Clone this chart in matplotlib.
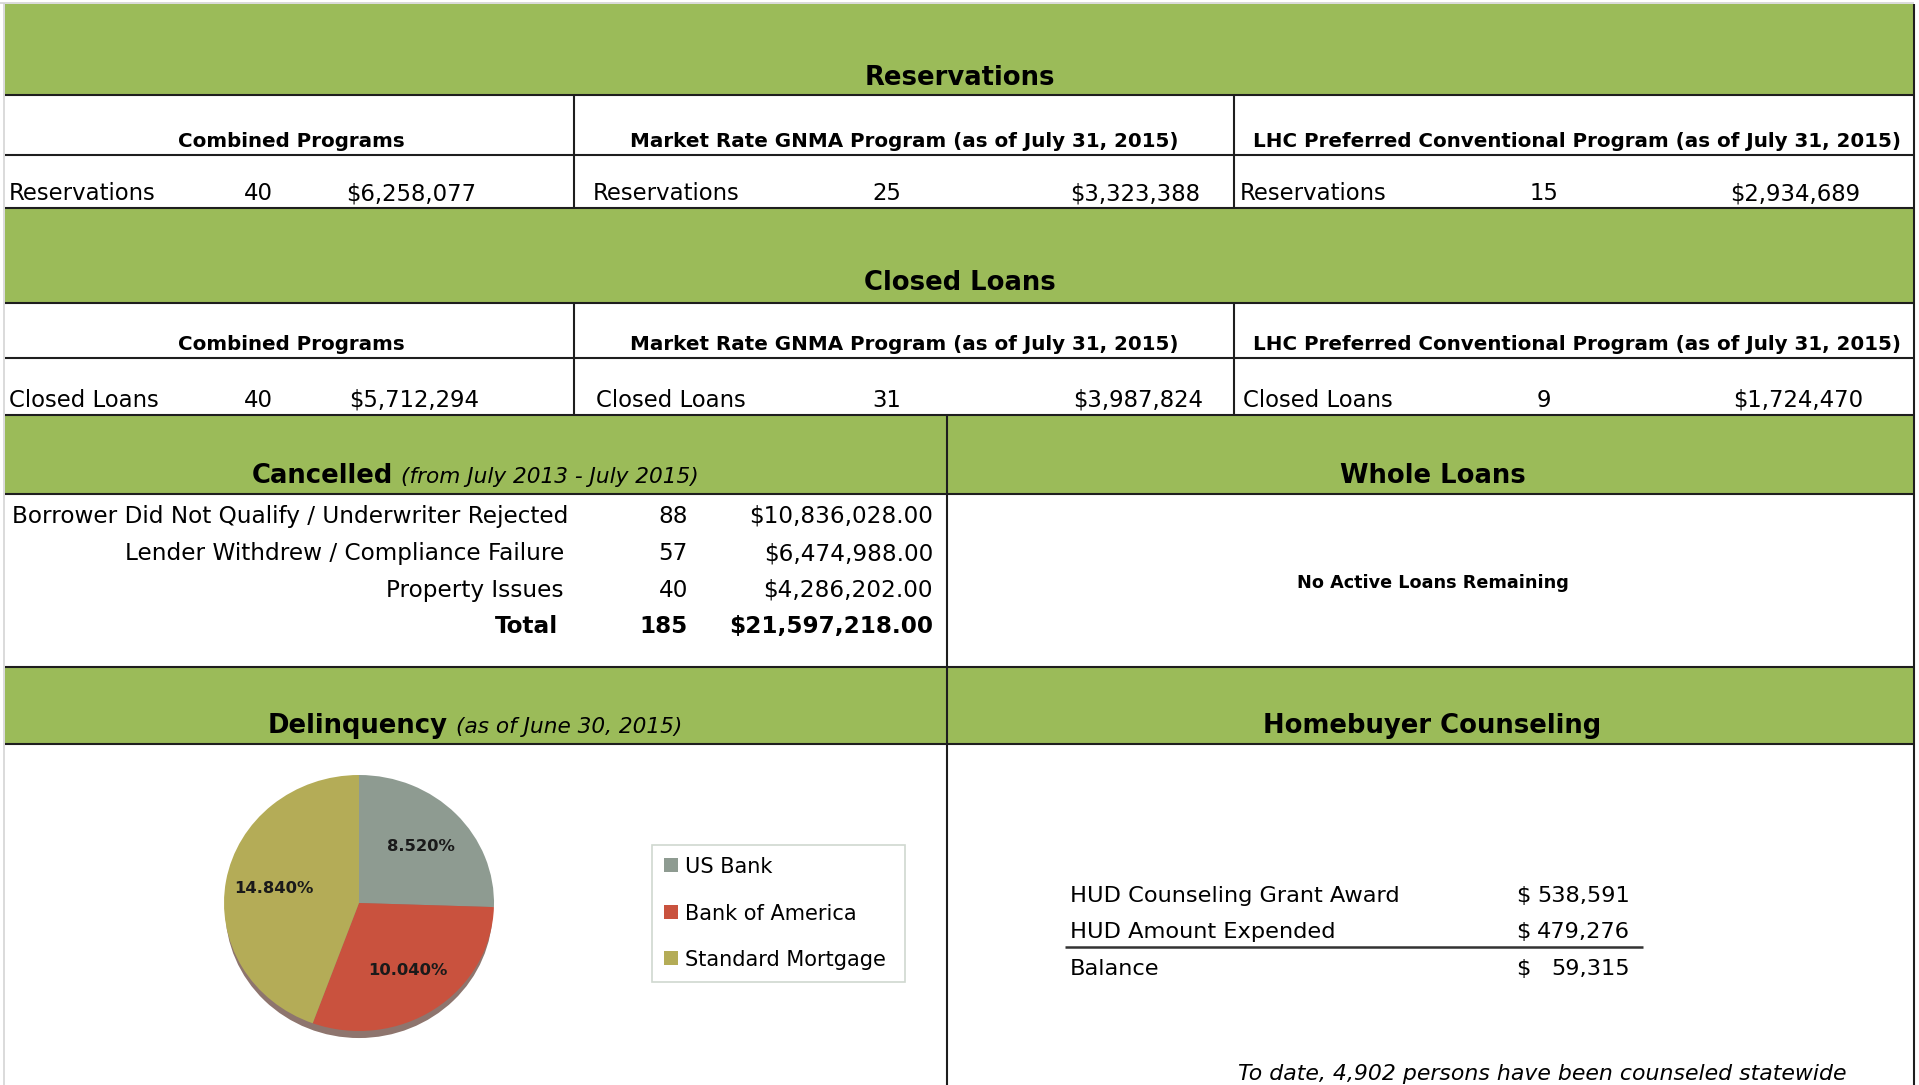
import matplotlib
matplotlib.use("Agg")
import matplotlib.pyplot as plt
from matplotlib.patches import Rectangle, Ellipse

# ---------------- data ----------------
programs = ["Combined Programs",
            "Market Rate GNMA Program (as of July 31, 2015)",
            "LHC Preferred Conventional Program (as of July 31, 2015)"]
res_counts = [40, 25, 15]
res_amounts = [6258077, 3323388, 2934689]
closed_counts = [40, 31, 9]
closed_amounts = [5712294, 3987824, 1724470]

cancel_reasons = ["Borrower Did Not Qualify / Underwriter Rejected",
                  "Lender Withdrew / Compliance Failure",
                  "Property Issues"]
cancel_counts = [88, 57, 40]
cancel_amounts = [10836028.00, 6474988.00, 4286202.00]

delinq_lenders = ["US Bank", "Bank of America", "Standard Mortgage"]
delinq_rates = [8.52, 10.04, 14.84]

hud_labels = ["HUD Counseling Grant Award", "HUD Amount Expended", "Balance"]
hud_values = [538591, 479276, 59315]
persons_counseled = 4902

# ---------------- style ----------------
GREEN = "#9BBB59"
LINE = "#1e1e1e"
PIE_COLORS = ["#8E9B91", "#C9523E", "#B4AC57"]
plt.rcParams["font.family"] = ["DejaVu Sans"]

W, H = 1919, 1085
fig = plt.figure(figsize=(W / 100, H / 100), dpi=100)
ax = fig.add_axes([0, 0, 1, 1])
ax.set_xlim(0, W)
ax.set_ylim(H, 0)
ax.axis("off")
renderer = fig.canvas.get_renderer()


def fit(s, width, **kw):
    t = fig.text(0, 0, s, fontsize=20, **kw)
    w = t.get_window_extent(renderer).width
    t.remove()
    return 20.0 * width / w


S_TITLE = fit("Reservations", 191, fontweight="bold")
S_SUB = fit(programs[1], 547, fontweight="bold")
S_DATA = fit("Reservations", 147)
S_CROW = fit(cancel_reasons[0], 555)
S_ITAL = fit("(from July 2013 - July 2015)", 297, fontstyle="italic")
S_NOACT = fit("No Active Loans Remaining", 272, fontweight="bold")
S_LEG = fit("Standard Mortgage", 201)
S_PIE = fit("14.840%", 80, fontweight="bold")
S_HUD = fit(hud_labels[0], 330)
S_FOOT = fit("To date, 4,902 persons have been counseled statewide", 607,
             fontstyle="italic")


def txt(x, y, s, size, ha="left", **kw):
    ax.text(x, y, s, fontsize=size, ha=ha, va="baseline", color="black", **kw)


def hline(y, x0=5, x1=1914, lw=1.5, c=LINE):
    ax.plot([x0, x1], [y, y], color=c, lw=lw, solid_capstyle="butt")


def vline(x, y0, y1, lw=1.5, c=LINE):
    ax.plot([x, x], [y0, y1], color=c, lw=lw, solid_capstyle="butt")


# outer page border (light)
hline(3, 0, 1914, lw=1.2, c="#d4d4d4")
vline(4, 3, H, lw=1.2, c="#d4d4d4")

# green bands
for (y0, y1) in [(4, 95), (208, 303), (415, 494), (667, 744)]:
    ax.add_patch(Rectangle((5, y0), 1909, y1 - y0, facecolor=GREEN,
                           edgecolor="none", zorder=0))

for y in [95, 155, 208, 303, 358, 415, 494, 667, 744]:
    hline(y)
vline(1914, 4, H)
for x in [574, 1234]:
    vline(x, 95, 208)
    vline(x, 303, 415)
vline(947, 415, H)

# ---------------- Reservations / Closed Loans ----------------
sub_cx = [291, 904, 1577]
lab_x = [9, 593, 1240]
cnt_x = [258, 887, 1544]
amt_x = [476, 1200, 1860]
closed_shift = [0, 3, 3]

txt(960, 85, "Reservations", S_TITLE, ha="center", fontweight="bold")
txt(960, 290, "Closed Loans", S_TITLE, ha="center", fontweight="bold")
for i, p in enumerate(programs):
    txt(sub_cx[i], 147, p, S_SUB, ha="center", fontweight="bold")
    txt(sub_cx[i], 350, p, S_SUB, ha="center", fontweight="bold")
    txt(lab_x[i], 200, "Reservations", S_DATA)
    txt(cnt_x[i], 200, f"{res_counts[i]}", S_DATA, ha="center")
    txt(amt_x[i], 200, f"${res_amounts[i]:,}", S_DATA, ha="right")
    txt(lab_x[i] + closed_shift[i], 407, "Closed Loans", S_DATA)
    txt(cnt_x[i], 407, f"{closed_counts[i]}", S_DATA, ha="center")
    txt(amt_x[i] + 3, 407, f"${closed_amounts[i]:,}", S_DATA, ha="right")

# ---------------- Cancelled ----------------
txt(393, 483, "Cancelled", S_TITLE, ha="right", fontweight="bold")
txt(401, 483, "(from July 2013 - July 2015)", S_ITAL, fontstyle="italic")
row_y = [523, 560, 597]
for i, r in enumerate(cancel_reasons):
    txt(568 if i == 0 else 564, row_y[i], r, S_CROW, ha="right")
    txt(688, row_y[i], f"{cancel_counts[i]}", S_CROW, ha="right")
    txt(933, row_y[i], f"${cancel_amounts[i]:,.2f}", S_CROW, ha="right")
txt(558, 633, "Total", S_CROW, ha="right", fontweight="bold")
txt(688, 633, f"{sum(cancel_counts)}", S_CROW, ha="right", fontweight="bold")
txt(933, 633, f"${sum(cancel_amounts):,.2f}", S_CROW, ha="right",
    fontweight="bold")

# ---------------- Whole Loans ----------------
txt(1433, 483, "Whole Loans", S_TITLE, ha="center", fontweight="bold")
txt(1433, 588, "No Active Loans Remaining", S_NOACT, ha="center",
    fontweight="bold")

# ---------------- Delinquency ----------------
txt(448, 733, "Delinquency", S_TITLE, ha="right", fontweight="bold")
txt(456, 733, "(as of June 30, 2015)", S_ITAL, fontstyle="italic")

cx, cy, rx, ry = 359, 903, 135, 128
M = 1.2  # margin factor so the pie and its shadow are not clipped
pax = fig.add_axes([(cx - M * rx) / W, (H - cy - M * ry) / H,
                    2 * M * rx / W, 2 * M * ry / H])
total = sum(delinq_rates)
pax.add_patch(Ellipse((0.0, -0.055), 1.98, 2.0, facecolor="#5e3b30",
                      edgecolor="none", alpha=0.7, zorder=0))
wedges, _, autotexts = pax.pie(
    delinq_rates, colors=PIE_COLORS, startangle=90, counterclock=False,
    autopct=lambda p: f"{p * total / 100:.3f}%", pctdistance=0.64,
    wedgeprops=dict(linewidth=0),
    textprops=dict(fontsize=S_PIE, fontweight="bold", color="#1a1a1a"))
pax.set_aspect("auto")
pax.set_xlim(-M, M)
pax.set_ylim(-M, M)
pax.axis("off")

# legend
ax.add_patch(Rectangle((652, 845), 253, 137, facecolor="white",
                       edgecolor="#d0d8d0", lw=1.2))
leg_y = [873, 920, 966]
for i, name in enumerate(delinq_lenders):
    ax.add_patch(Rectangle((664, leg_y[i] - 15), 14, 14,
                           facecolor=PIE_COLORS[i], edgecolor="none"))
    txt(685, leg_y[i], name, S_LEG)

# ---------------- Homebuyer Counseling ----------------
txt(1432, 733, "Homebuyer Counseling", S_TITLE, ha="center", fontweight="bold")
hud_y = [902, 938, 975]
for i, lab in enumerate(hud_labels):
    txt(1070, hud_y[i], lab, S_HUD)
    txt(1516, hud_y[i], "$", S_HUD)
    txt(1630, hud_y[i], f"{hud_values[i]:,}", S_HUD, ha="right")
hline(947, 1065, 1643, lw=1.8, c="#333333")
txt(1846, 1080, f"To date, {persons_counseled:,} persons have been counseled statewide",
    S_FOOT, ha="right", fontstyle="italic")

fig.savefig("out.png", dpi=100)
